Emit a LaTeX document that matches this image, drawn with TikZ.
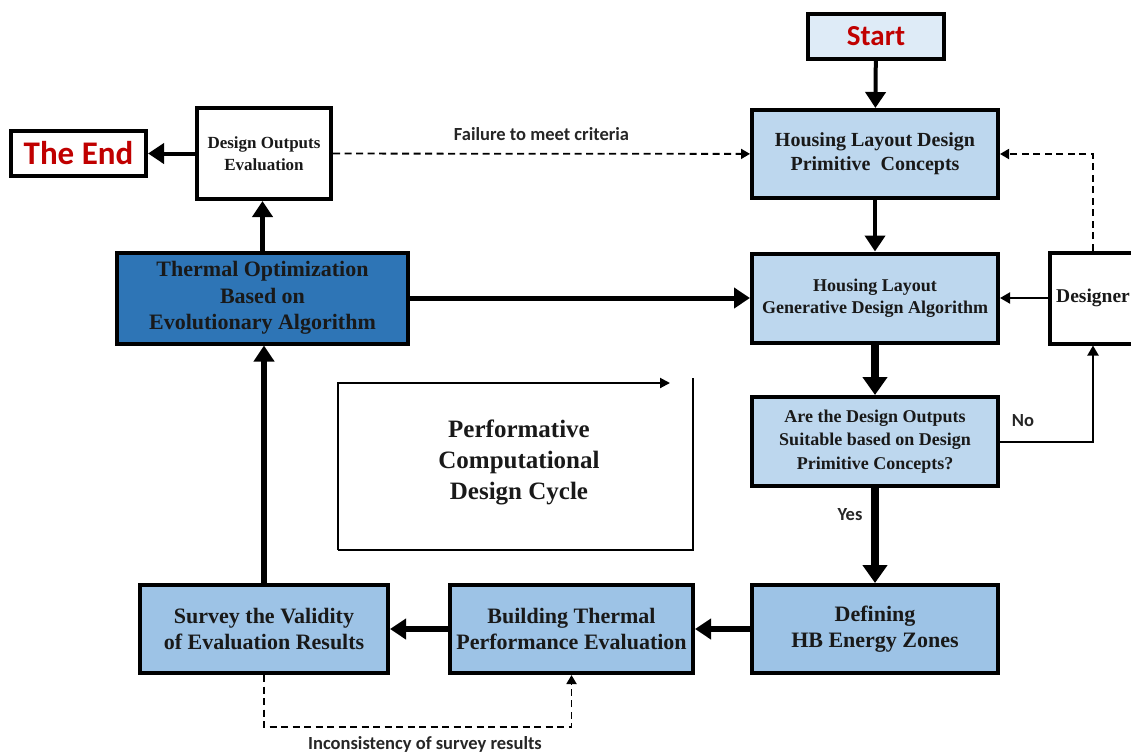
\documentclass[tikz,border=0pt]{standalone}
\usepackage{fontspec}
\setmainfont{Liberation Serif}
\newfontfamily\labelfont{Carlito}
\usetikzlibrary{arrows.meta}

\definecolor{paleblue}{HTML}{DEEBF7}
\definecolor{lightblue}{HTML}{BDD7EE}
\definecolor{midblue}{HTML}{9DC3E6}
\definecolor{deepblue}{HTML}{2E75B6}
\definecolor{endred}{HTML}{C00000}

\tikzset{
  stagebox/.style={draw=black, line width=4pt, inner sep=0pt, align=center,
    text=black!90},
  serif22/.style={font=\fontsize{22}{26.5}\selectfont\bfseries},
  serif17/.style={font=\fontsize{17}{22}\selectfont\bfseries},
  note/.style={font=\labelfont\fontsize{18.5}{21}\selectfont\bfseries, text=black!85},
  flow/.style={draw=black, -{Triangle[length=16pt,width=20pt]}},
  thin flow/.style={draw=black, line width=2pt, -{Triangle[length=10pt,width=11pt]}},
  dash flow/.style={draw=black, line width=1.8pt, dash pattern=on 7pt off 4.5pt,
    -{Triangle[length=9pt,width=10pt]}},
}

\begin{document}
\begin{tikzpicture}[x=1pt,y=-1pt]
\useasboundingbox (0,0) rectangle (1131,755);

% stages of the cycle
\node[stagebox, fill=paleblue, minimum width=136pt, minimum height=45pt,
  font=\labelfont\fontsize{29}{32}\selectfont\bfseries, text=endred] (start) at (876,36.5) {Start};
\node[stagebox, fill=lightblue, minimum width=246pt, minimum height=88pt,
  font=\fontsize{20}{24}\selectfont\bfseries] (prim) at (875,154)
  {Housing Layout Design\\Primitive\ \ Concepts};
\node[stagebox, fill=lightblue, minimum width=246pt, minimum height=89pt,
  font=\fontsize{18}{22}\selectfont\bfseries] (gen) at (875,298)
  {Housing Layout\\Generative Design Algorithm};
\node[stagebox, fill=lightblue, minimum width=246pt, minimum height=89pt,
  font=\fontsize{18}{23.5}\selectfont\bfseries] (are) at (875,441.5)
  {Are the Design Outputs\\Suitable based on Design\\Primitive Concepts?};
\node[stagebox, fill=midblue, minimum width=246pt, minimum height=88pt, serif22] (def) at (875,629)
  {Defining\\HB Energy Zones};
\node[stagebox, fill=midblue, minimum width=243pt, minimum height=88pt, serif22] (bld) at (571.5,629)
  {Building Thermal\\Performance Evaluation};
\node[stagebox, fill=midblue, minimum width=248pt, minimum height=88pt, serif22] (srv) at (264,629)
  {Survey the Validity\\of Evaluation Results};
\node[stagebox, fill=deepblue, minimum width=291pt, minimum height=91pt, serif22] (opt) at (262.5,298)
  {Thermal Optimization\\Based on\\Evolutionary Algorithm};
\node[stagebox, fill=white, minimum width=134pt, minimum height=91pt, serif17] (doe) at (264,153.5)
  {Design Outputs\\Evaluation};
\node[stagebox, fill=white, minimum width=135pt, minimum height=45pt,
  font=\labelfont\fontsize{33}{36}\selectfont\bfseries, text=endred] (end) at (78.5,153.5) {The End};
\node[stagebox, fill=white, minimum width=86pt, minimum height=91pt,
  font=\fontsize{19.5}{23}\selectfont\bfseries] (des) at (1093,298) {Designer};

% main flow
\draw[flow, line width=4pt] (start) -- (prim);
\draw[flow, line width=4.5pt] (prim) -- (gen);
\draw[flow, line width=8pt, -{Triangle[length=18pt,width=24pt]}] (gen) -- (are);
\draw[flow, line width=8pt, -{Triangle[length=18pt,width=24pt]}] (are) -- (def);
\draw[flow, line width=6pt] (def) -- (bld);
\draw[flow, line width=6pt] (bld) -- (srv);
\draw[flow, line width=6pt] (srv.north) -- (srv.north |- opt.south);
\draw[flow, line width=5pt] (opt) -- (gen);
\draw[flow, line width=5pt] (opt.north) -- (opt.north |- doe.south);
\draw[flow, line width=4pt] (doe) -- (end);

% feedback paths
\draw[dash flow] (doe) -- node[note, above=9pt] {Failure to meet criteria} (prim);
\draw[dash flow] (des.north) |- (prim.east);
\draw[thin flow] (des) -- (gen);
\draw[thin flow] (are.east) -| (des.south);
\node[note] (no) at (1023,421) {No};
\node[note] (yes) at (850,515) {Yes};
\draw[dash flow] (srv.south) -- ++(0,52) coordinate (loop) -| (bld.south);
\node[note] (inc) at (425,744) {Inconsistency of survey results};

% cycle symbol in the middle
\draw[line width=2pt, -{Triangle[length=10pt,width=10pt]}]
  (338,550) -- (338,383) -- (670,383);
\draw[line width=2pt] (338,550) -- (694,550);
\draw[line width=2pt] (693,378) -- (693,551);
\node[font=\fontsize{25}{31}\selectfont\bfseries, align=center, text=black!90] (cycle) at (519,462)
  {Performative\\Computational\\Design Cycle};
\end{tikzpicture}
\end{document}
